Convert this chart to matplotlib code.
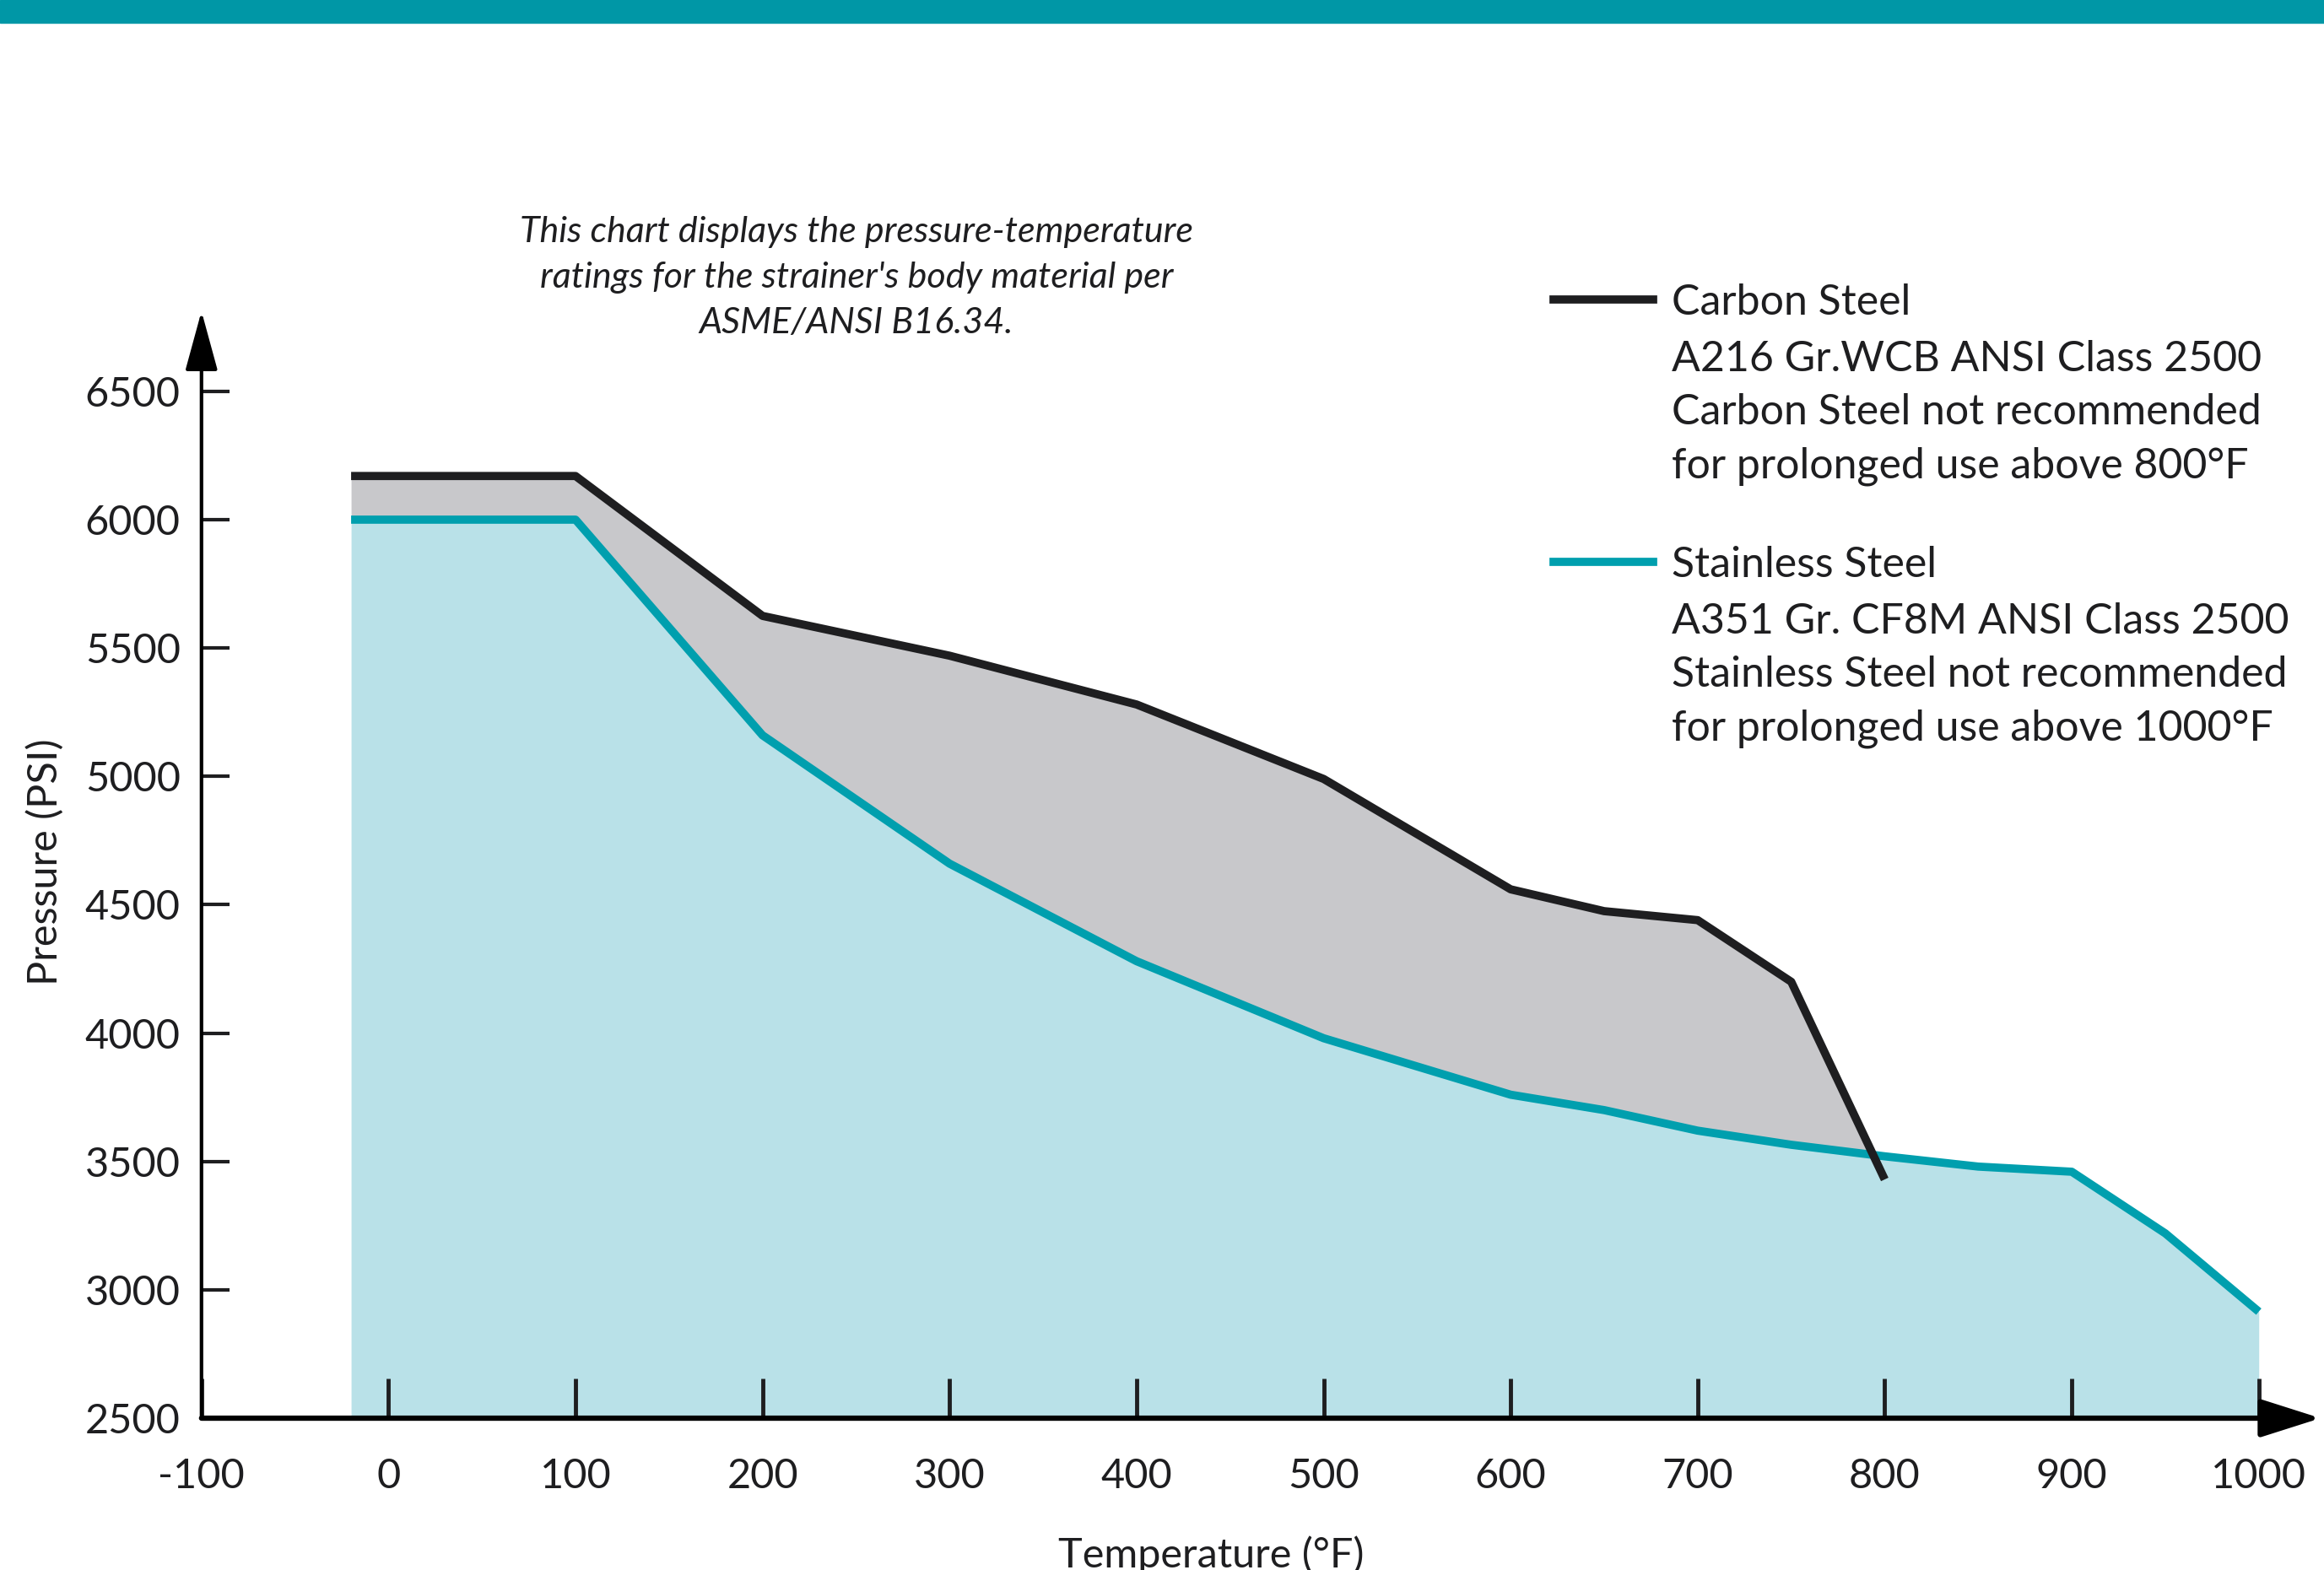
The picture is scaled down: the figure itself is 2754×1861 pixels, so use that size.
import numpy as np
import matplotlib.pyplot as plt
from matplotlib.lines import Line2D
from matplotlib.patches import Rectangle

# pressure-temperature ratings, class 2500
temps_cs = [-20, 100, 200, 300, 400, 500, 600, 650, 700, 750, 800]
carbon = [6170, 6170, 5625, 5470, 5280, 4990, 4560, 4475, 4440, 4200, 3430]

temps_ss = [-20, 100, 200, 300, 400, 500, 600, 650, 700, 750, 800, 850, 900, 950, 1000]
stainless = [6000, 6000, 5160, 4660, 4280, 3980, 3760, 3700, 3620, 3565, 3520, 3480, 3460, 3220, 2915]

x_ticks = list(range(-100, 1001, 100))
y_ticks = list(range(2500, 6501, 500))

cs_label = "Carbon Steel"
cs_text = "A216 Gr.WCB ANSI Class 2500\nCarbon Steel not recommended\nfor prolonged use above 800°F"
ss_label = "Stainless Steel"
ss_text = "A351 Gr. CF8M ANSI Class 2500\nStainless Steel not recommended\nfor prolonged use above 1000°F"
note = "This chart displays the pressure-temperature\nratings for the strainer's body material per\nASME/ANSI B16.34."

teal = "#009fae"
light = "#b9e1e8"
grey = "#c8c8cb"
ink = "#1e1e20"

plt.rcParams['font.family'] = ['Lato', 'DejaVu Sans']
plt.rcParams['axes.unicode_minus'] = False

fig = plt.figure(figsize=(27.54, 18.61), dpi=100)
fig.patches.append(Rectangle((0, 1 - 27 / 1861), 1, 27 / 1861, transform=fig.transFigure,
                             color="#0097a6", zorder=0))

ax = fig.add_axes([0.0867, 0.0967, 0.9126, 0.7113])
ax.set_xlim(-100, 1034)
ax.set_ylim(2500, 6850)

ax.fill_between(temps_ss, 2500, stainless, color=light, lw=0, zorder=1)
ss_on_cs = np.interp(temps_cs, temps_ss, stainless)
cs = np.array(carbon)
ax.fill_between(temps_cs, ss_on_cs, cs, where=cs >= ss_on_cs, interpolate=True,
                color=grey, lw=0, zorder=1)
ax.plot(temps_ss, stainless, color=teal, lw=7, solid_capstyle='butt', zorder=3)
ax.plot(temps_cs, carbon, color=ink, lw=7, solid_capstyle='butt', zorder=4)

for s in ax.spines.values():
    s.set_visible(False)

# axis lines with arrow heads
ax.annotate('', xy=(-100, 6812), xytext=(-100, 2500),
            arrowprops=dict(arrowstyle='-|>,head_length=4.4,head_width=1.2', color='black',
                            lw=3, mutation_scale=10, shrinkA=0, shrinkB=0),
            annotation_clip=False, zorder=5)
ax.annotate('', xy=(1033, 2500), xytext=(-100, 2500),
            arrowprops=dict(arrowstyle='-|>,head_length=4.4,head_width=1.4', color='black',
                            lw=4.5, mutation_scale=10, shrinkA=0, shrinkB=0),
            annotation_clip=False, zorder=5)

ax.set_xticks(x_ticks)
ax.set_yticks(y_ticks)
ax.tick_params(axis='y', direction='in', length=24, width=3, pad=18, labelsize=35,
               colors=ink)
ax.tick_params(axis='x', direction='in', length=34, width=3.5, pad=34, labelsize=35,
               colors=ink)
ax.set_axisbelow(False)

ax.set_xlabel("Temperature (°F)", fontsize=35, color=ink)
ax.xaxis.set_label_coords(0.476, -0.105)
ax.set_ylabel("Pressure (PSI)", fontsize=35, color=ink)
ax.yaxis.set_label_coords(-0.065, 0.498)

fig.text(0.3686, 0.8625, note, ha='center', va='top', fontsize=31, style='italic',
         color=ink, linespacing=1.52)

legend_kw = dict(loc='upper left', bbox_transform=fig.transFigure, frameon=False,
                 handlelength=2.35, handletextpad=0.45, labelspacing=0.42, borderpad=0,
                 borderaxespad=0, fontsize=36, labelcolor=ink)
leg1 = ax.legend([Line2D([], [], color=ink, lw=7), Line2D([], [], color='none')],
                 [cs_label, cs_text], bbox_to_anchor=(0.6685, 0.8195), **legend_kw)
for t in leg1.get_texts():
    t.set_linespacing(1.47)
ax.add_artist(leg1)
leg2 = ax.legend([Line2D([], [], color=teal, lw=7), Line2D([], [], color='none')],
                 [ss_label, ss_text], bbox_to_anchor=(0.6685, 0.6525), **legend_kw)
for t in leg2.get_texts():
    t.set_linespacing(1.47)

fig.savefig("out.png", dpi=100)
